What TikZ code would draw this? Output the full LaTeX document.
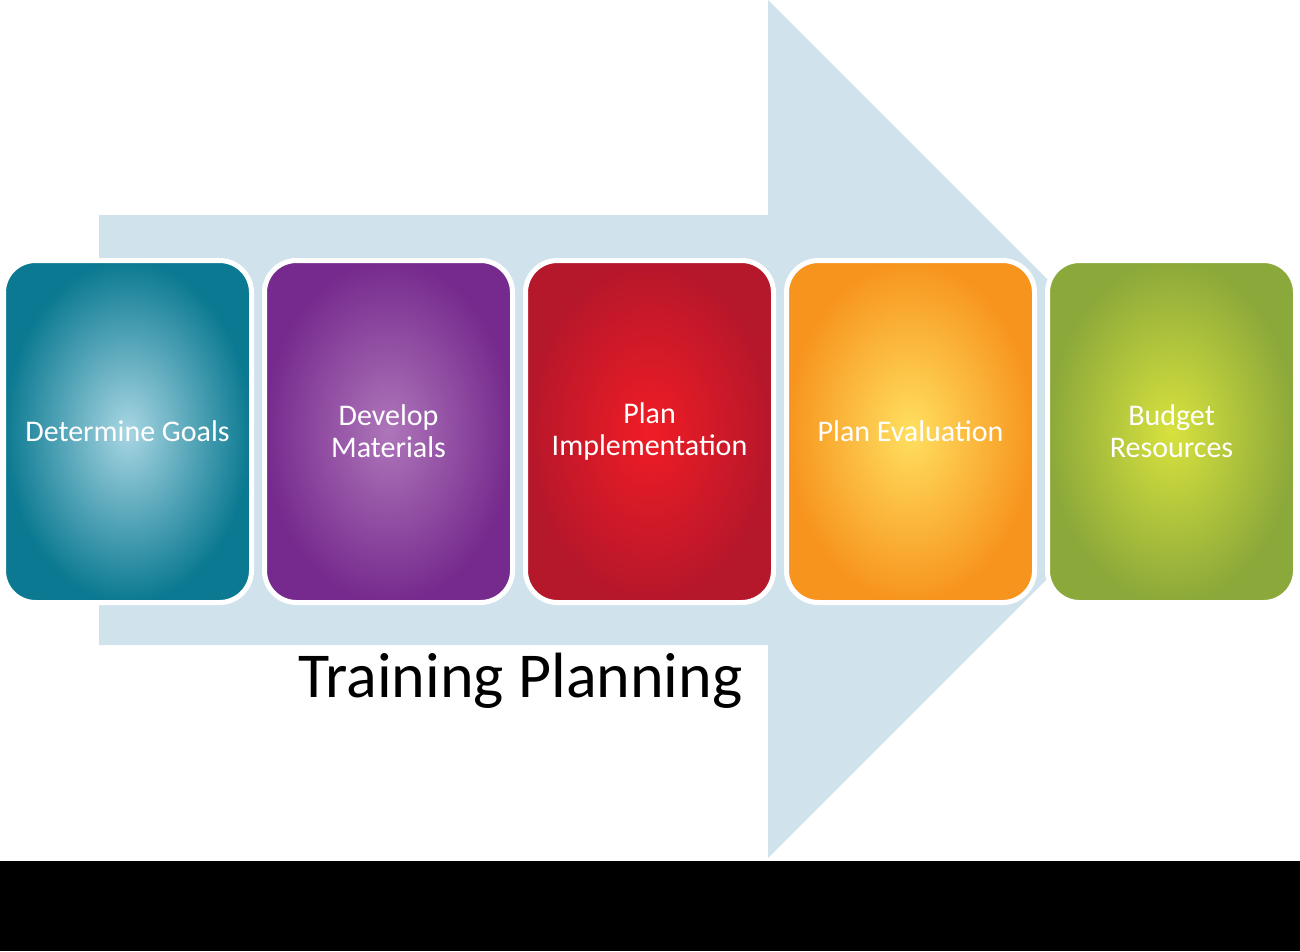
\documentclass[tikz,border=0pt]{standalone}
\usepackage{fontspec}
\setmainfont{Carlito}
\usetikzlibrary{positioning}
\definecolor{arrowblue}{HTML}{D0E3EC}
\definecolor{tealout}{HTML}{0A7991}
\definecolor{tealin}{HTML}{A8D6E3}
\definecolor{purpleout}{HTML}{762A8D}
\definecolor{purplein}{HTML}{AE76BA}
\definecolor{redout}{HTML}{B5172B}
\definecolor{redin}{HTML}{F01C25}
\definecolor{orangeout}{HTML}{F7941D}
\definecolor{orangein}{HTML}{FFDF60}
\definecolor{greenout}{HTML}{8BA83A}
\definecolor{greenin}{HTML}{D8E23E}
\tikzset{%
  step box/.style 2 args={%
    rectangle,
    rounded corners=32pt,
    draw=white,
    line width=5pt,
    outer sep=0pt,
    inner sep=0pt,
    minimum width=248pt,
    minimum height=342pt,
    inner color=#1,
    outer color=#2,
    text=white,
    align=center,
    font=\fontsize{30}{32}\selectfont
  }
}
\tikzset{%
  title text/.style={%
    font=\fontsize{64}{70}\selectfont,
    text=black,
    anchor=base
  }
}
\begin{document}
\begin{tikzpicture}[x=1pt,y=-1pt]
  \useasboundingbox (0,0) rectangle (1300,951);
  \fill [arrowblue] (99,215) -- (768,215) -- (768,0) -- (1197,429)
    -- (768,858) -- (768,645) -- (99,645) -- cycle;
  \node [step box={tealin}{tealout}] (goals) at (127.5,431.5) {Determine Goals};
  \node [step box={purplein}{purpleout}, right=13pt of goals] (materials) {Develop\\Materials};
  \node [step box={redin}{redout}, right=13pt of materials] (implement) {Plan\\Implementation};
  \node [step box={orangein}{orangeout}, right=13pt of implement] (evaluate) {Plan Evaluation};
  \node [step box={greenin}{greenout}, right=13pt of evaluate] (budget) {Budget\\Resources};
  \node [title text] (title) at (520.5,697) {Training Planning};
  \fill [black] (0,861) rectangle (1300,951);
\end{tikzpicture}
\end{document}
